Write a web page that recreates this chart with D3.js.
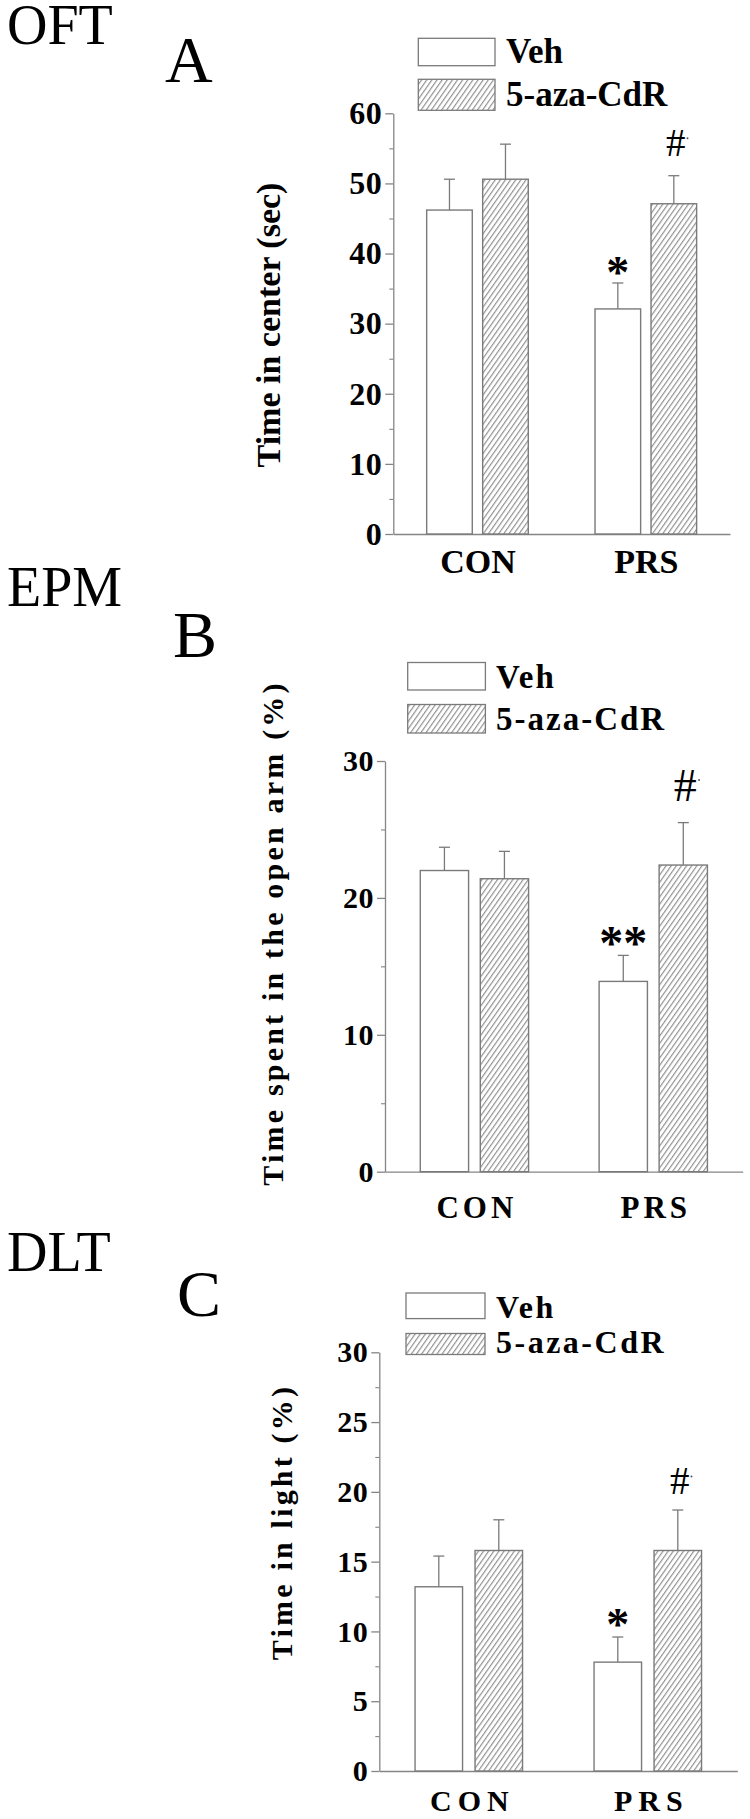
<!DOCTYPE html>
<html>
<head>
<meta charset="utf-8">
<script src="https://cdn.jsdelivr.net/npm/d3@7/dist/d3.min.js"></script>
<style>
  html, body { margin: 0; padding: 0; background: #fff; }
  svg { display: block; }
  text { font-family: "Liberation Serif", "Times New Roman", Times, serif; fill: #000; }
</style>
</head>
<body>
<div id="chart"></div>
<script>
// ---------- data ----------
const categories = ["CON", "PRS"];
const seriesNames = ["Veh", "5-aza-CdR"];

const testNames = ["OFT", "EPM", "DLT"];
const panelLetters = ["A", "B", "C"];
const yLabels = ["Time in center (sec)", "Time spent in the open arm (%)", "Time in light (%)"];

// OFT (panel A)
const oftVeh = [46.2, 32.1];
const oftVehErr = [4.4, 3.7];
const oftAza = [50.6, 47.1];
const oftAzaErr = [5.0, 4.0];
const oftTicks = [0, 10, 20, 30, 40, 50, 60];
const oftMinor = [5, 15, 25, 35, 45, 55];

// EPM (panel B)
const epmVeh = [22.0, 13.9];
const epmVehErr = [1.7, 1.9];
const epmAza = [21.4, 22.4];
const epmAzaErr = [2.0, 3.1];
const epmTicks = [0, 10, 20, 30];
const epmMinor = [5, 15, 25];

// DLT (panel C)
const dltVeh = [13.2, 7.8];
const dltVehErr = [2.2, 1.8];
const dltAza = [15.8, 15.8];
const dltAzaErr = [2.2, 2.9];
const dltTicks = [0, 5, 10, 15, 20, 25, 30];
const dltMinor = [2.5, 7.5, 12.5, 17.5, 22.5, 27.5];

// significance marks on PRS group: [Veh mark, 5-aza mark]
const oftMarks = ["*", "#"];
const epmMarks = ["**", "#"];
const dltMarks = ["*", "#"];

// ---------- layout ----------
const W = 750, H = 1819;
const svg = d3.select("#chart").append("svg").attr("width", W).attr("height", H);
svg.append("rect").attr("width", W).attr("height", H).attr("fill", "#fff");

const defs = svg.append("defs");
const pat = defs.append("pattern").attr("id", "hatch")
  .attr("patternUnits", "userSpaceOnUse").attr("width", 4.2).attr("height", 8)
  .attr("patternTransform", "rotate(35)");
pat.append("rect").attr("width", 4.2).attr("height", 8).attr("fill", "#fff");
pat.append("line").attr("x1", 0.6).attr("y1", 0).attr("x2", 0.6).attr("y2", 8)
  .attr("stroke", "#8a8a8a").attr("stroke-width", 1.1);

const AXIS = "#858585", BAR = "#7a7a7a";

const panels = [
  { veh: oftVeh, vehErr: oftVehErr, aza: oftAza, azaErr: oftAzaErr, ticks: oftTicks, minor: oftMinor, marks: oftMarks,
    ymax: 60, x0: 393.3, x1: 730, y0: 534, y1: 113.3, barW: 45.6, off: 28,
    tickFont: 32, tickLS: 0.5, xFont: 34, xLS: 0, xPad: 15,
    yLabX: 280, yLabY: 325, yLabFont: 34, yLabLS: 0,
    testY: 44, letX: 165, letY: 82,
    leg: { bx: 418.3, bw: 76.7, by: [38.3, 79.3], bh: [27.4, 31], tx: 506, ty: [63.3, 106], font: 35, ls: 0 },
    starFont: 46, starGap: 8, starLS: 0, hashFont: 39, hashGap: 20 },
  { veh: epmVeh, vehErr: epmVehErr, aza: epmAza, azaErr: epmAzaErr, ticks: epmTicks, minor: epmMinor, marks: epmMarks,
    ymax: 30, x0: 385, x1: 742.7, y0: 1171.7, y1: 761, barW: 48.3, off: 30,
    tickFont: 30, tickLS: 0.5, xFont: 31, xLS: 4, xPad: 24,
    yLabX: 283, yLabY: 933, yLabFont: 30, yLabLS: 3.2,
    testY: 606, letX: 173, letY: 657,
    leg: { bx: 407.7, bw: 77.7, by: [662.5, 704.5], bh: [27.5, 28.5], tx: 496, ty: [688, 730], font: 33, ls: 2 },
    starFont: 48, starGap: 10, starLS: 0, hashFont: 46, hashGap: 22 },
  { veh: dltVeh, vehErr: dltVehErr, aza: dltAza, azaErr: dltAzaErr, ticks: dltTicks, minor: dltMinor, marks: dltMarks,
    ymax: 30, x0: 379.3, x1: 737.3, y0: 1771, y1: 1352.3, barW: 47.5, off: 30,
    tickFont: 30, tickLS: 0.5, xFont: 30, xLS: 6, xPad: 19,
    yLabX: 292, yLabY: 1522, yLabFont: 30, yLabLS: 3.2,
    testY: 1271, letX: 177, letY: 1316,
    leg: { bx: 406, bw: 79, by: [1293, 1333.5], bh: [25.6, 21], tx: 496, ty: [1318, 1353], font: 32, ls: 2.5 },
    starFont: 46, starGap: 10, starLS: 0, hashFont: 39, hashGap: 16 }
];

panels.forEach((p, pi) => {
  const g = svg.append("g");
  const x = d3.scalePoint().domain(categories).range([p.x0, p.x1]).padding(0.5);
  const y = d3.scaleLinear().domain([0, p.ymax]).range([p.y0, p.y1]);

  // test name and panel letter
  g.append("text").attr("x", 7).attr("y", p.testY).attr("font-size", 56).text(testNames[pi]);
  g.append("text").attr("x", p.letX).attr("y", p.letY).attr("font-size", 66).text(panelLetters[pi]);

  // y axis (major)
  const yAx = g.append("g").attr("transform", `translate(${p.x0},0)`)
    .call(d3.axisLeft(y).tickValues(p.ticks).tickSize(8).tickSizeOuter(0).tickPadding(3).tickFormat(d3.format("d")));
  yAx.select(".domain").attr("stroke", AXIS).attr("stroke-width", 1.3);
  yAx.selectAll(".tick line").attr("stroke", AXIS).attr("stroke-width", 1.3);
  yAx.selectAll(".tick text").attr("font-size", p.tickFont).attr("font-weight", "bold")
    .attr("font-family", "Liberation Serif, Times New Roman, serif").attr("fill", "#000")
    .style("letter-spacing", p.tickLS + "px");
  // minor ticks
  const yMin = g.append("g").attr("transform", `translate(${p.x0},0)`)
    .call(d3.axisLeft(y).tickValues(p.minor).tickSize(4).tickSizeOuter(0).tickFormat(""));
  yMin.select(".domain").remove();
  yMin.selectAll(".tick line").attr("stroke", AXIS).attr("stroke-width", 1.1);

  // x axis
  const xAx = g.append("g").attr("transform", `translate(0,${p.y0})`)
    .call(d3.axisBottom(x).tickSize(0).tickSizeOuter(0).tickPadding(p.xPad));
  xAx.select(".domain").attr("stroke", AXIS).attr("stroke-width", 1.3);
  xAx.selectAll(".tick text").attr("font-size", p.xFont).attr("font-weight", "bold")
    .attr("font-family", "Liberation Serif, Times New Roman, serif").attr("fill", "#000")
    .style("letter-spacing", p.xLS + "px").attr("dx", p.xLS / 2);

  // y label
  g.append("text").attr("transform", `translate(${p.yLabX},${p.yLabY}) rotate(-90)`)
    .attr("text-anchor", "middle").attr("font-size", p.yLabFont).attr("font-weight", "bold")
    .style("letter-spacing", p.yLabLS + "px").text(yLabels[pi]);

  // bars
  const series = [
    { vals: p.veh, errs: p.vehErr, fill: "#fff", off: -p.off },
    { vals: p.aza, errs: p.azaErr, fill: "url(#hatch)", off: p.off }
  ];
  series.forEach((s, si) => {
    categories.forEach((c, ci) => {
      const cx = x(c) + s.off;
      const v = s.vals[ci], e = s.errs[ci];
      // error bar (upper only)
      g.append("line").attr("x1", cx).attr("x2", cx).attr("y1", y(v)).attr("y2", y(v + e))
        .attr("stroke", BAR).attr("stroke-width", 1.3);
      g.append("line").attr("x1", cx - 5.5).attr("x2", cx + 5.5).attr("y1", y(v + e)).attr("y2", y(v + e))
        .attr("stroke", BAR).attr("stroke-width", 1.3);
      g.append("rect").attr("x", cx - p.barW / 2).attr("y", y(v))
        .attr("width", p.barW).attr("height", y(0) - y(v))
        .attr("fill", s.fill).attr("stroke", BAR).attr("stroke-width", 1.4);
    });
  });

  // significance marks on PRS
  const prs = categories[1];
  const vTop = y(p.veh[1] + p.vehErr[1]);
  const aTop = y(p.aza[1] + p.azaErr[1]);
  g.append("text").attr("x", x(prs) - p.off).attr("y", vTop - p.starGap + p.starFont * 0.29)
    .attr("text-anchor", "middle").attr("font-size", p.starFont).attr("font-weight", "bold")
    .text(p.marks[0]);
  g.append("text").attr("x", x(prs) + p.off + 2).attr("y", aTop - p.hashGap)
    .attr("text-anchor", "middle").attr("font-size", p.hashFont)
    .text(p.marks[1]);
  g.append("circle").attr("cx", x(prs) + p.off + 2 + p.hashFont * 0.3).attr("cy", aTop - p.hashGap - p.hashFont * 0.45)
    .attr("r", 1).attr("fill", "#555");

  // legend
  const L = p.leg;
  seriesNames.forEach((name, si) => {
    g.append("rect").attr("x", L.bx).attr("y", L.by[si]).attr("width", L.bw).attr("height", L.bh[si])
      .attr("fill", si === 0 ? "#fff" : "url(#hatch)").attr("stroke", BAR).attr("stroke-width", 1.3);
    g.append("text").attr("x", L.tx).attr("y", L.ty[si]).attr("font-size", L.font).attr("font-weight", "bold")
      .style("letter-spacing", L.ls + "px").text(name);
  });
});
</script>
</body>
</html>
